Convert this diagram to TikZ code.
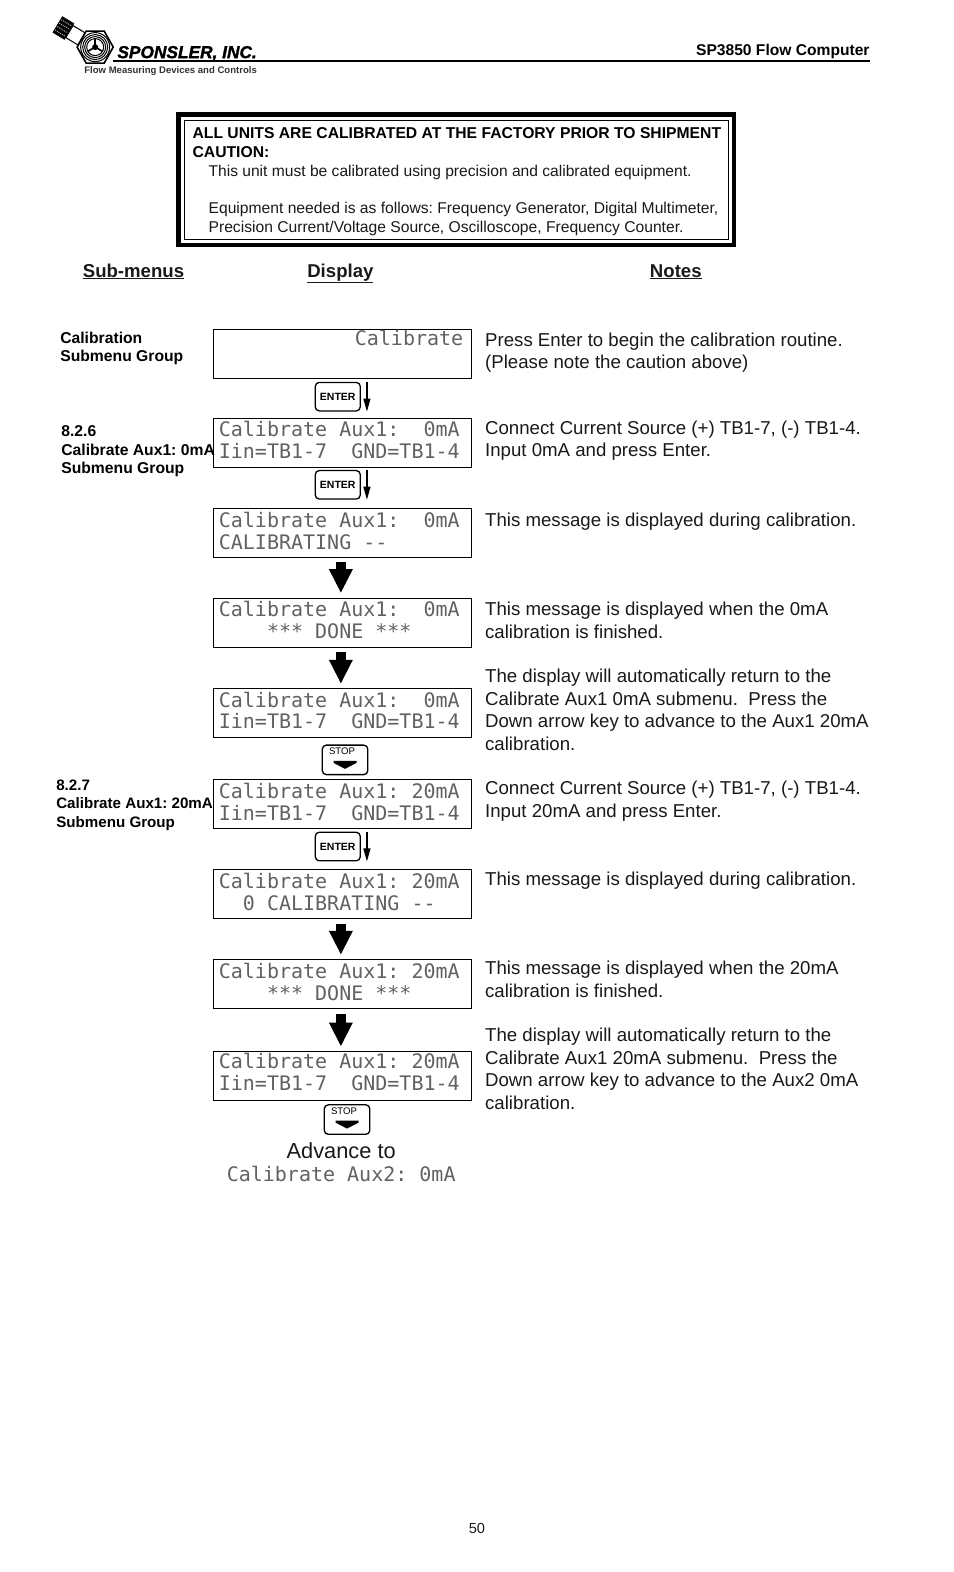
\documentclass[tikz,border=0pt]{standalone}
\usepackage{fontspec}
\setmainfont{Liberation Sans}
\newfontfamily\lcdfont{DejaVu Sans Mono}
\newfontfamily\logofont{Liberation Sans}[BoldItalicFeatures={FakeBold=1.6}]
\usetikzlibrary{arrows.meta,shapes.geometric}
\definecolor{lcdgray}{gray}{0.38}
\definecolor{inkblack}{gray}{0.1}
\newcommand{\fs}[2]{\fontsize{#1}{#2}\selectfont}
\newcommand{\lcd}[2]{\vbox to 46.5pt{\offinterlineskip\vskip 2.5pt
  \hbox to 248pt{\vrule height 15pt depth 7pt width 0pt #1\hss}%
  \hbox to 248pt{\vrule height 15pt depth 7pt width 0pt #2\hss}\vss}}
\newcommand{\lift}[2]{\raisebox{#1}[0pt][0pt]{#2}}
\frenchspacing
\tikzset{
  x=1.002pt,y=-1.002pt,
  note/.style={font=\frenchspacing\fs{18.65}{22.6},align=left,anchor=north west,inner sep=0,text=inkblack},
  sidelabel/.style={font=\frenchspacing\fs{15.7}{18.6}\bfseries,align=left,anchor=north west,inner sep=0,text=black},
  heading/.style={font=\fs{18.6}{22}\bfseries,anchor=base west,inner sep=0,text=inkblack},
  cautiontext/.style={font=\frenchspacing\fs{15.65}{18.7},align=left,anchor=north west,inner sep=0,text=inkblack},
  lcdbox/.style={draw=black,line width=0.9pt,anchor=north west,minimum width=258pt,minimum height=49pt,inner sep=0,
     font=\frenchspacing\fs{20}{22}\lcdfont,text=lcdgray},
  bigarrow/.style={-{Triangle[width=22pt,length=24pt]},line width=10.5pt,black,shorten >=4.5pt,shorten <=4.5pt},
  smallarrow/.style={-{Triangle[width=7pt,length=13pt]},line width=1.2pt,black},
  keybox/.style={draw=black,line width=1.3pt,rounded corners=4pt,anchor=north west,inner sep=0,fill=white},
  enterkey/.style={keybox,minimum width=45pt,minimum height=28.5pt,font=\fs{10.5}{12}\bfseries},
  stopkey/.style={keybox,minimum width=45.5pt,minimum height=29.5pt},
  stoplabel/.style={font=\fs{9.6}{11},inner sep=0,text=black},
}
\begin{document}
\begin{tikzpicture}
\useasboundingbox (0,0) rectangle (952.1,1568.9);
% header / logo
\draw[line width=2pt,black] (113,61) -- (868,61);
\node[font=\fs{15.6}{16}\bfseries,anchor=base east,inner sep=0] (hdr) at (868,55) {SP3850 Flow Computer};
\node[font=\fs{17.3}{18}\logofont\bfseries\itshape,anchor=base west,inner sep=0] (logoname) at (117,58) {SPONSLER, INC.};
\node[font=\fs{9.55}{11}\bfseries,anchor=base west,inner sep=0,text=black!80] (logotag) at (84,73) {Flow Measuring Devices and Controls};
\begin{scope}[shift={(95,47)}]
  \begin{scope}[rotate=-31]
    \fill[black] (-44,-9.5) rectangle (-30,9.5);
    \foreach \yy in {-6,-2,2,6}{\draw[white!70!black,line width=1pt,densely dotted] (-43,\yy) -- (-31,\yy);}
    \draw[black,fill=white,line width=1pt] (-30,-7) rectangle (-16,7);
  \end{scope}
  \draw[black,fill=white,line width=1.6pt] (-18,0) -- (-9,-16) -- (9,-16) -- (18,0) -- (9,16) -- (-9,16) -- cycle;
  \foreach \r in {14.5,12.5,10.5}{\draw[black,line width=1pt] (0,0) circle (\r pt);}
  \draw[black,line width=1pt] (0,0) circle (8.5pt);
  \foreach \a in {90,210,330}{\draw[black,line width=1.6pt] (0,0) -- (\a:8.5pt);}
  \fill[black] (0,0) circle (3pt);
\end{scope}
% caution box
\node[draw=black,line width=4.4pt,anchor=north west,minimum width=555.6pt,minimum height=130.6pt,inner sep=0] (outer) at (176,112) {};
\node[draw=black,line width=0.9pt,anchor=north west,minimum width=544pt,minimum height=119pt,inner sep=0] (inner) at (183.5,119.5) {};
\node[cautiontext,font=\frenchspacing\fs{15.7}{18.7}\bfseries,text=black] (c1) at (192,127) {ALL UNITS ARE CALIBRATED AT THE FACTORY PRIOR TO SHIPMENT\\CAUTION:};
\node[cautiontext,font=\frenchspacing\fs{15.6}{18.7}] (c2) at (208,164.5) {This unit must be calibrated using precision and calibrated equipment.};
\node[cautiontext] (c3) at (208,201.5) {Equipment needed is as follows: Frequency Generator, Digital Multimeter,\\Precision Current/Voltage Source, Oscilloscope, Frequency Counter.};
% headings
\node[heading] (h1) at (82.5,276.5) {\underline{Sub-menus}};
\node[heading] (h2) at (306.5,276.5) {\underline{Display}};
\node[heading] (h3) at (648.5,276.5) {\underline{Notes}};
% side labels
\node[sidelabel] (s1) at (60,331) {Calibration\\Submenu Group};
\node[sidelabel] (s2) at (61,424.7) {8.2.6\\Calibrate Aux1: 0mA\\Submenu Group};
\node[sidelabel,font=\frenchspacing\fs{15.15}{18.5}\bfseries] (s3) at (56,778) {8.2.7\\Calibrate Aux1: 20mA\\Submenu Group};
% displays
\node[lcdbox] (d1) at (213,328) {\lcd{\hspace*{136pt}\lift{2.5pt}{Calibrate}}{}};
\node[lcdbox] (d2) at (213,417) {\lcd{\lift{0.8pt}{Calibrate Aux1:~~0mA}}{\lift{1pt}{Iin=TB1-7~~GND=TB1-4}}};
\node[lcdbox] (d3) at (213,506.5) {\lcd{Calibrate Aux1:~~0mA}{CALIBRATING --}};
\node[lcdbox] (d4) at (213,596.5) {\lcd{\lift{0.8pt}{Calibrate Aux1:~~0mA}}{~~~~*** DONE ***}};
\node[lcdbox] (d5) at (213,687) {\lcd{Calibrate Aux1:~~0mA}{\lift{1pt}{Iin=TB1-7~~GND=TB1-4}}};
\node[lcdbox] (d6) at (213,777.5) {\lcd{Calibrate Aux1: 20mA}{Iin=TB1-7~~GND=TB1-4}};
\node[lcdbox] (d7) at (213,867.5) {\lcd{Calibrate Aux1: 20mA}{~~0 CALIBRATING --}};
\node[lcdbox] (d8) at (213,957.5) {\lcd{Calibrate Aux1: 20mA}{~~~~*** DONE ***}};
\node[lcdbox] (d9) at (213,1049) {\lcd{\lift{1.5pt}{Calibrate Aux1: 20mA}}{\lift{1.5pt}{Iin=TB1-7~~GND=TB1-4}}};
% big arrows
\draw[bigarrow] ([xshift=-2pt]d3.south) -- ([xshift=-2pt]d4.north);
\draw[bigarrow] ([xshift=-2pt]d4.south) -- ([xshift=-2pt]d5.north);
\draw[bigarrow] ([xshift=-2pt]d7.south) -- ([xshift=-2pt]d8.north);
\draw[bigarrow] ([xshift=-2pt]d8.south) -- ([xshift=-2pt]d9.north);
% enter keys
\node[enterkey] (k1) at (314,381) {ENTER};
\node[enterkey] (k2) at (314,469) {ENTER};
\node[enterkey] (k3) at (314,830) {ENTER};
\foreach \k in {k1,k2,k3}{
  \coordinate (\k a) at ([xshift=6pt]\k.north east);
  \coordinate (\k b) at ([xshift=6pt]\k.south east);
  \draw[smallarrow] (\k a) -- (\k b);
}
% stop keys
\node[stopkey] (k4) at (321,743) {};
\node[stopkey] (k5) at (323,1102) {};
\foreach \k in {k4,k5}{
  \node[stoplabel] (\k l) at ([xshift=-3pt,yshift=-7pt]\k.north) {STOP};
  \fill[black] ([xshift=-11.5pt,yshift=-1pt]\k.center) -- ([xshift=11.5pt,yshift=-1pt]\k.center) -- ([xshift=11.5pt,yshift=-3pt]\k.center) -- ([yshift=-9pt]\k.center) -- ([xshift=-11.5pt,yshift=-3pt]\k.center) -- cycle;
}
% advance
\node[font=\fs{21.8}{24},anchor=base,inner sep=0,text=inkblack] (adv) at (340.5,1156) {Advance to};
\node[font=\frenchspacing\fs{20}{22}\lcdfont,anchor=base,inner sep=0,text=lcdgray] (advl) at (340.5,1179.5) {Calibrate Aux2: 0mA};
% notes
\node[note] (n1) at (484,332) {Press Enter to begin the calibration routine.\\(Please note the caution above)};
\node[note] (n2) at (484,419.8) {Connect Current Source (+) TB1-7, (-) TB1-4.\\Input 0mA and press Enter.};
\node[note] (n3) at (484,512) {This message is displayed during calibration.};
\node[note] (n4) at (484,601) {This message is displayed when the 0mA\\calibration is finished.};
\node[note] (n5) at (484,667.7) {The display will automatically return to the\\Calibrate Aux1 0mA submenu.~~Press the\\Down arrow key to advance to the Aux1 20mA\\calibration.};
\node[note] (n6) at (484,779.5) {Connect Current Source (+) TB1-7, (-) TB1-4.\\Input 20mA and press Enter.};
\node[note] (n7) at (484,870.3) {This message is displayed during calibration.};
\node[note] (n8) at (484,959) {This message is displayed when the 20mA\\calibration is finished.};
\node[note] (n9) at (484,1026) {The display will automatically return to the\\Calibrate Aux1 20mA submenu.~~Press the\\Down arrow key to advance to the Aux2 0mA\\calibration.};
\node[font=\fs{14.6}{16},anchor=base,inner sep=0,text=inkblack] (pg) at (476,1530) {50};
\end{tikzpicture}
\end{document}
